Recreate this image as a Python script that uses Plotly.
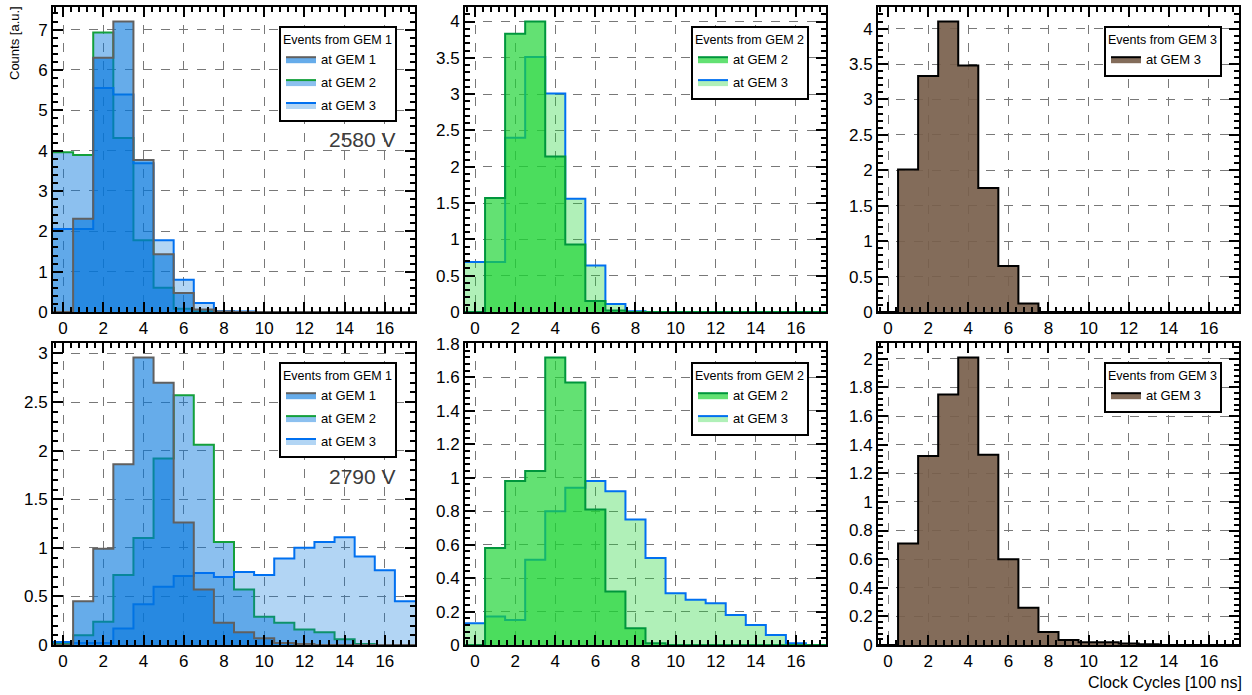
import plotly.graph_objects as go

# ---------------- data ----------------
bins = list(range(18))  # bin centres, clock cycles [100 ns]

# 2580 V
gem1_at_gem1_2580 = [0, 2.31, 6.30, 7.20, 3.77, 1.43, 0.47, 0.06, 0.01, 0, 0, 0, 0, 0, 0, 0, 0, 0]
gem1_at_gem2_2580 = [3.96, 3.89, 6.93, 4.31, 1.78, 0.60, 0.08, 0.02, 0, 0, 0, 0, 0, 0, 0, 0, 0, 0]
gem1_at_gem3_2580 = [2.06, 2.06, 5.55, 5.39, 3.69, 1.78, 0.80, 0.22, 0.02, 0.01, 0, 0, 0, 0, 0, 0, 0, 0]
gem2_at_gem2_2580 = [0, 1.57, 3.83, 4.00, 2.14, 0.93, 0.15, 0.02, 0, 0, 0, 0, 0, 0, 0, 0, 0, 0]
gem2_at_gem3_2580 = [0.69, 0.69, 2.40, 3.51, 3.01, 1.56, 0.64, 0.11, 0.01, 0, 0, 0, 0, 0, 0, 0, 0, 0]
gem3_at_gem3_2580 = [0, 2.01, 3.33, 4.10, 3.48, 1.75, 0.65, 0.12, 0, 0, 0, 0, 0, 0, 0, 0, 0, 0]

# 2790 V
gem1_at_gem1_2790 = [0, 0.45, 0.99, 1.86, 2.96, 2.70, 1.26, 0.57, 0.23, 0.13, 0.07, 0.02, 0.01, 0, 0, 0, 0, 0]
gem1_at_gem2_2790 = [0.02, 0.10, 0.24, 0.72, 1.10, 1.92, 2.57, 2.06, 1.06, 0.57, 0.29, 0.23, 0.16, 0.13, 0.06, 0.01, 0, 0]
gem1_at_gem3_2790 = [0.03, 0.02, 0.02, 0.17, 0.42, 0.60, 0.71, 0.74, 0.70, 0.75, 0.72, 0.89, 1.00, 1.06, 1.11, 0.91, 0.77, 0.45]
gem2_at_gem2_2790 = [0, 0.58, 0.98, 1.04, 1.72, 1.57, 0.81, 0.32, 0.10, 0.01, 0, 0, 0, 0, 0, 0, 0, 0]
gem2_at_gem3_2790 = [0.13, 0.17, 0.15, 0.51, 0.80, 0.94, 0.98, 0.92, 0.75, 0.52, 0.31, 0.27, 0.25, 0.18, 0.12, 0.06, 0.01, 0]
gem3_at_gem3_2790 = [0, 0.71, 1.32, 1.75, 2.01, 1.33, 0.60, 0.26, 0.09, 0.035, 0.02, 0.02, 0.01, 0.005, 0, 0, 0, 0]

x_ticks = [0, 2, 4, 6, 8, 10, 12, 14, 16]
voltages = ["2580 V", "2790 V"]
legend_titles = ["Events from GEM 1", "Events from GEM 2", "Events from GEM 3"]

# ---------------- styles ----------------
FONT = "Liberation Sans, Arial, Helvetica, sans-serif"
W, H = 1252, 695
col_px = [(53, 415), (465, 826), (878, 1239)]
row_px = [(7, 312), (343, 645)]

BLUE = "0,116,220"
GREEN = "29,212,52"
styles = {
    "g1": dict(fill=f"rgba({BLUE},0.60)", line="rgb(96,96,96)"),
    "g2": dict(fill=f"rgba({BLUE},0.45)", line="rgb(20,160,60)"),
    "g3": dict(fill=f"rgba({BLUE},0.30)", line="rgb(0,112,240)"),
    "h2": dict(fill=f"rgba({GREEN},0.69)", line="rgb(0,150,60)"),
    "h3": dict(fill=f"rgba({GREEN},0.35)", line="rgb(0,112,240)"),
    "b3": dict(fill="rgba(120,96,76,0.92)", line="rgb(0,0,0)"),
}

# panels: (row, col, [(values, style, name, rank)], y major, y minor)
panels = [
    (0, 0, [(gem1_at_gem2_2580, "g2", "at GEM 2", 2), (gem1_at_gem3_2580, "g3", "at GEM 3", 3),
            (gem1_at_gem1_2580, "g1", "at GEM 1", 1)], 1, 0.2),
    (0, 1, [(gem2_at_gem3_2580, "h3", "at GEM 3", 2), (gem2_at_gem2_2580, "h2", "at GEM 2", 1)], 0.5, 0.1),
    (0, 2, [(gem3_at_gem3_2580, "b3", "at GEM 3", 1)], 0.5, 0.1),
    (1, 0, [(gem1_at_gem2_2790, "g2", "at GEM 2", 2), (gem1_at_gem3_2790, "g3", "at GEM 3", 3),
            (gem1_at_gem1_2790, "g1", "at GEM 1", 1)], 0.5, 0.1),
    (1, 1, [(gem2_at_gem3_2790, "h3", "at GEM 3", 2), (gem2_at_gem2_2790, "h2", "at GEM 2", 1)], 0.2, 0.04),
    (1, 2, [(gem3_at_gem3_2790, "b3", "at GEM 3", 1)], 0.2, 0.04),
]

edges = [b - 0.5 for b in bins] + [bins[-1] + 0.5]

fig = go.Figure()
layout = dict(
    template="none",
    width=W, height=H, margin=dict(l=0, r=0, t=0, b=0, pad=0, autoexpand=False),
    paper_bgcolor="white", plot_bgcolor="white",
    font=dict(family=FONT, size=16, color="black"),
    annotations=[], showlegend=True,
)

TICKFONT = dict(family=FONT, size=17, color="black")

for i, (r, c, series, ymaj, ymin) in enumerate(panels):
    k = i + 1
    sfx = "" if k == 1 else str(k)
    leg = "legend" if k == 1 else f"legend{k}"
    ymax = 1.05 * max(max(v) for v, *_ in series)
    for vals, st, name, rank in series:
        s = styles[st]
        fig.add_trace(go.Scatter(
            x=edges, y=list(vals) + [vals[-1]], mode="lines",
            line=dict(shape="hv", color=s["line"], width=2),
            fill="tozeroy", fillcolor=s["fill"], name=name,
            legend=leg, legendrank=rank, legendgroup=f"p{k}_{rank}", hoverinfo="skip",
            xaxis=f"x{sfx}", yaxis=f"y{sfx}",
        ))
    common = dict(
        showline=True, linecolor="black", linewidth=2, mirror="allticks",
        ticks="inside", ticklen=10, tickwidth=2, tickcolor="black", automargin=False,
        showgrid=True, gridcolor="rgb(120,120,120)", griddash="dash", gridwidth=1,
        zeroline=False, tickfont=TICKFONT,
    )
    layout[f"xaxis{sfx}"] = dict(
        common, domain=[col_px[c][0] / W, col_px[c][1] / W], anchor=f"y{sfx}",
        range=[edges[0], edges[-1]], tickmode="array", tickvals=x_ticks,
        minor=dict(dtick=0.4, tick0=0, ticks="inside", ticklen=5, tickwidth=1.5,
                   tickcolor="black", showgrid=False),
    )
    layout[f"yaxis{sfx}"] = dict(
        common, domain=[1 - row_px[r][1] / H, 1 - row_px[r][0] / H], anchor=f"x{sfx}",
        range=[0, ymax], dtick=ymaj, tick0=0,
        minor=dict(dtick=ymin, tick0=0, ticks="inside", ticklen=5, tickwidth=1.5,
                   tickcolor="black", showgrid=False),
    )
    lx = (col_px[c][0] + 226) / W
    ly = 1 - (row_px[r][0] + 19) / H
    layout[leg] = dict(
        x=lx, y=ly, xanchor="left", yanchor="top", xref="paper", yref="paper",
        bgcolor="white", bordercolor="black", borderwidth=2,
        font=dict(family=FONT, size=13, color="black"),
        title=dict(text=legend_titles[c], font=dict(family=FONT, size=12.5, color="black")),
        itemwidth=30, tracegroupgap=3, traceorder="grouped",
    )
    if c == 0:
        layout["annotations"].append(dict(
            text=voltages[r], xref="paper", yref="paper",
            x=398 / W, y=1 - (row_px[r][0] + 133) / H, xanchor="right", yanchor="middle",
            showarrow=False, font=dict(family=FONT, size=21, color="rgb(60,60,60)"),
        ))

layout["annotations"].append(dict(
    text="Counts [a.u.]", xref="paper", yref="paper", x=14 / W, y=1 - 4 / H,
    xanchor="center", yanchor="top", textangle=-90, showarrow=False,
    font=dict(family=FONT, size=13, color="black"),
))
layout["annotations"].append(dict(
    text="Clock Cycles [100 ns]", xref="paper", yref="paper", x=1244 / W, y=1 - 682 / H,
    xanchor="right", yanchor="middle", showarrow=False,
    font=dict(family=FONT, size=16, color="black"),
))

fig.update_layout(**layout)
fig.write_html("out.html", config={"displayModeBar": False},
               post_script="document.body.style.margin='0px';document.body.style.overflow='hidden';")
